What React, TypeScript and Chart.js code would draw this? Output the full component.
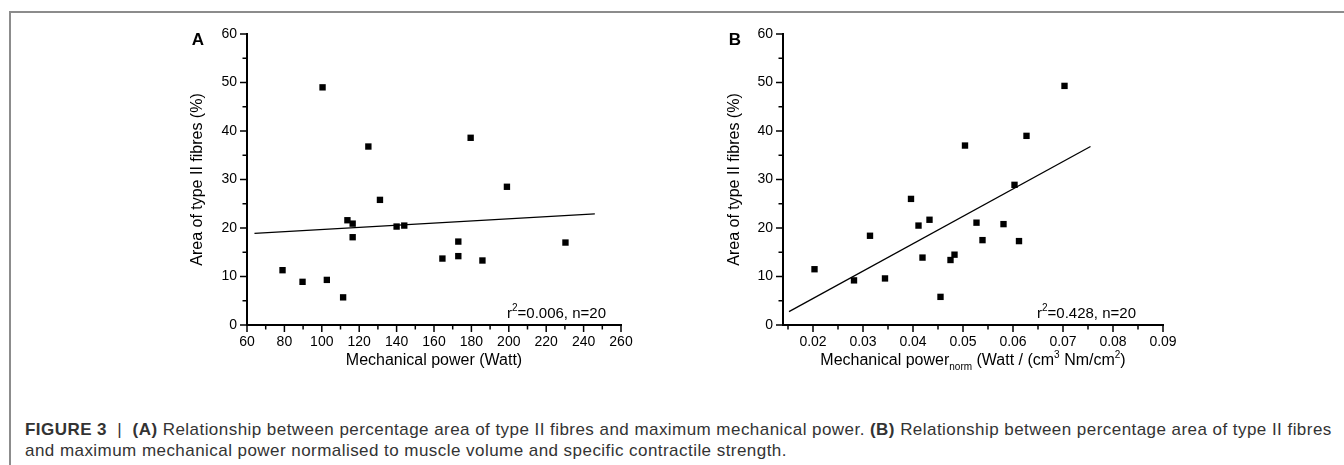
import React, { useEffect, useRef } from "react";
import { Chart, registerables } from "chart.js";

Chart.register(...registerables);

// ---------- Data ----------
const powerWatt = [79, 89.7, 100.4, 102.7, 111.4, 113.7, 116.5, 116.5, 124.9, 131.1, 140, 144.1, 164.5, 173, 173, 179.6, 185.9, 199, 230.3];
const fibreAreaA = [11.3, 8.9, 49.0, 9.3, 5.7, 21.6, 20.9, 18.1, 36.8, 25.8, 20.3, 20.5, 13.7, 17.2, 14.2, 38.6, 13.3, 28.5, 17.0];
const fitAx = [64, 246];
const fitAy = [18.9, 22.9];

const powerNorm = [0.0203, 0.0282, 0.0314, 0.0344, 0.0396, 0.0411, 0.0419, 0.0433, 0.0455, 0.0475, 0.0483, 0.0504, 0.0527, 0.0539, 0.0581, 0.0603, 0.0612, 0.0627, 0.0703];
const fibreAreaB = [11.5, 9.2, 18.4, 9.6, 26.0, 20.5, 13.9, 21.7, 5.8, 13.4, 14.5, 37.0, 21.1, 17.5, 20.8, 28.9, 17.3, 39.0, 49.3];
const fitBx = [0.0152, 0.0755];
const fitBy = [2.75, 36.8];

const yMajorTicks = [0, 10, 20, 30, 40, 50, 60];
const yMinorTicks = [5, 15, 25, 35, 45, 55];
const xMajorTicksA = [60, 80, 100, 120, 140, 160, 180, 200, 220, 240, 260];
const xMinorTicksA = [70, 90, 110, 130, 150, 170, 190, 210, 230, 250];
const xMajorTicksB = [0.02, 0.03, 0.04, 0.05, 0.06, 0.07, 0.08, 0.09];
const xMinorTicksB = [0.015, 0.025, 0.035, 0.045, 0.055, 0.065, 0.075, 0.085];
const xLabelsB = ["0.02", "0.03", "0.04", "0.05", "0.06", "0.07", "0.08", "0.09"];

const statsA = "0.006, n=20";
const statsB = "0.428, n=20";

const FONT = '"Liberation Sans", Arial, Helvetica, sans-serif';

type Run = { text: string; size: number; bold?: boolean; dy?: number };

function drawRuns(ctx: CanvasRenderingContext2D, runs: Run[], x: number, y: number, align: "left" | "center") {
  let total = 0;
  const widths = runs.map((r) => {
    ctx.font = `${r.bold ? "bold " : ""}${r.size}px ${FONT}`;
    const w = ctx.measureText(r.text).width;
    total += w;
    return w;
  });
  let cx = align === "center" ? x - total / 2 : x;
  ctx.textAlign = "left";
  ctx.textBaseline = "alphabetic";
  runs.forEach((r, i) => {
    ctx.font = `${r.bold ? "bold " : ""}${r.size}px ${FONT}`;
    ctx.fillText(r.text, cx, y + (r.dy || 0));
    cx += widths[i];
  });
}

const tickMarks = {
  id: "tickMarks",
  afterDraw(chart: any, _args: any, opts: any) {
    const ctx = chart.ctx as CanvasRenderingContext2D;
    const xs = chart.scales.x;
    const ys = chart.scales.y;
    const area = chart.chartArea;
    ctx.save();
    ctx.strokeStyle = "#000";
    ctx.lineWidth = 1.5;
    const major = 6;
    const minor = 3.5;
    const bottom = area.bottom + 1;
    const left = area.left - 1;
    const dx = (vals: number[], len: number) =>
      vals.forEach((v) => {
        const p = xs.getPixelForValue(v);
        ctx.beginPath();
        ctx.moveTo(p, bottom);
        ctx.lineTo(p, bottom + len);
        ctx.stroke();
      });
    const dy = (vals: number[], len: number) =>
      vals.forEach((v) => {
        const p = ys.getPixelForValue(v);
        ctx.beginPath();
        ctx.moveTo(left, p);
        ctx.lineTo(left - len, p);
        ctx.stroke();
      });
    dx(opts.xMajor, major);
    dx(opts.xMinor, minor);
    dy(yMajorTicks, major);
    dy(yMinorTicks, minor);
    ctx.restore();
  },
};

const panelText = {
  id: "panelText",
  afterDraw(chart: any, _args: any, opts: any) {
    const ctx = chart.ctx as CanvasRenderingContext2D;
    const area = chart.chartArea;
    ctx.save();
    ctx.fillStyle = "#000";
    // panel letter
    ctx.font = `bold 17px ${FONT}`;
    ctx.textAlign = "center";
    ctx.textBaseline = "middle";
    ctx.fillText(opts.letter, opts.titleX, 40);
    // y title
    ctx.save();
    ctx.translate(opts.titleX, (area.top + area.bottom) / 2);
    ctx.rotate(-Math.PI / 2);
    ctx.font = `16px ${FONT}`;
    ctx.textAlign = "center";
    ctx.textBaseline = "middle";
    ctx.fillText("Area of type II fibres (%)", 0, 0);
    ctx.restore();
    // x title
    drawRuns(ctx, opts.xTitle, (area.left + area.right) / 2, 365, "center");
    // stats
    drawRuns(
      ctx,
      [
        { text: "r", size: 15 },
        { text: "2", size: 10, dy: -7 },
        { text: "=" + opts.stats, size: 15 },
      ],
      opts.statsX,
      318,
      "left"
    );
    ctx.restore();
  },
};

function makeConfig(opts: {
  xs: number[];
  ys: number[];
  fx: number[];
  fy: number[];
  xMin: number;
  xMax: number;
  xMajor: number[];
  xMinor: number[];
  xLabel: (v: number) => string;
  padding: { left: number; right: number; top: number; bottom: number };
  letter: string;
  titleX: number;
  statsX: number;
  stats: string;
  xTitle: Run[];
}): any {
  return {
    type: "scatter",
    data: {
      datasets: [
        {
          type: "scatter",
          data: opts.xs.map((x, i) => ({ x, y: opts.ys[i] })),
          pointStyle: "rect",
          pointRadius: 4.5,
          backgroundColor: "#000",
          borderWidth: 0,
        },
        {
          type: "line",
          data: opts.fx.map((x, i) => ({ x, y: opts.fy[i] })),
          borderColor: "#000",
          borderWidth: 1.3,
          pointRadius: 0,
          fill: false,
          showLine: true,
        },
      ],
    },
    options: {
      animation: false,
      responsive: false,
      maintainAspectRatio: false,
      layout: { padding: opts.padding },
      plugins: {
        legend: { display: false },
        tooltip: { enabled: false },
        tickMarks: { xMajor: opts.xMajor, xMinor: opts.xMinor },
        panelText: { letter: opts.letter, titleX: opts.titleX, statsX: opts.statsX, stats: opts.stats, xTitle: opts.xTitle },
      },
      scales: {
        x: {
          type: "linear",
          min: opts.xMin,
          max: opts.xMax,
          afterBuildTicks: (s: any) => {
            s.ticks = opts.xMajor.map((v) => ({ value: v }));
          },
          afterFit: (s: any) => {
            s.height = 30;
          },
          grid: { display: false, drawTicks: false, tickLength: 0 },
          border: { display: true, color: "#000", width: 2 },
          ticks: {
            color: "#000",
            font: { family: FONT, size: 14 },
            padding: 9,
            maxRotation: 0,
            autoSkip: false,
            callback: (v: number) => opts.xLabel(v),
          },
        },
        y: {
          type: "linear",
          min: 0,
          max: 60,
          afterBuildTicks: (s: any) => {
            s.ticks = yMajorTicks.map((v) => ({ value: v }));
          },
          afterFit: (s: any) => {
            s.width = 40;
          },
          grid: { display: false, drawTicks: false, tickLength: 0 },
          border: { display: true, color: "#000", width: 2 },
          ticks: {
            color: "#000",
            font: { family: FONT, size: 14 },
            padding: 10,
            autoSkip: false,
            callback: (v: number) => String(v),
          },
        },
      },
    },
    plugins: [tickMarks, panelText],
  };
}

function Panel({ config, left }: { config: () => any; left: number }) {
  const ref = useRef<HTMLCanvasElement | null>(null);
  useEffect(() => {
    if (!ref.current) return;
    const chart = new Chart(ref.current, config());
    return () => chart.destroy();
  }, []);
  return (
    <canvas
      ref={ref}
      width={672}
      height={380}
      style={{ position: "absolute", left, top: 0, width: 672, height: 380 }}
    />
  );
}

export default function App() {
  const configA = () =>
    makeConfig({
      xs: powerWatt,
      ys: fibreAreaA,
      fx: fitAx,
      fy: fitAy,
      xMin: 60,
      xMax: 260,
      xMajor: xMajorTicksA,
      xMinor: xMinorTicksA,
      xLabel: (v) => String(v),
      padding: { left: 207, right: 51, top: 34, bottom: 25 },
      letter: "A",
      titleX: 198,
      statsX: 507,
      stats: statsA,
      xTitle: [{ text: "Mechanical power (Watt)", size: 16 }],
    });
  const configB = () =>
    makeConfig({
      xs: powerNorm,
      ys: fibreAreaB,
      fx: fitBx,
      fy: fitBy,
      xMin: 0.014,
      xMax: 0.09,
      xMajor: xMajorTicksB,
      xMinor: xMinorTicksB,
      xLabel: (v) => xLabelsB[xMajorTicksB.indexOf(v)] ?? v.toFixed(2),
      padding: { left: 71, right: 181, top: 34, bottom: 25 },
      letter: "B",
      titleX: 63,
      statsX: 365,
      stats: statsB,
      xTitle: [
        { text: "Mechanical power", size: 16 },
        { text: "norm", size: 10, dy: 5 },
        { text: " (Watt / (cm", size: 16 },
        { text: "3", size: 10, dy: -7 },
        { text: " Nm/cm", size: 16 },
        { text: "2", size: 10, dy: -7 },
        { text: ")", size: 16 },
      ],
    });

  return (
    <div
      style={{
        position: "fixed",
        left: 0,
        top: 0,
        width: 1344,
        height: 465,
        background: "#fff",
        overflow: "hidden",
      }}
    >
      <div
        style={{
          position: "absolute",
          left: 9,
          top: 11,
          width: 1340,
          height: 460,
          borderTop: "2px solid #8c8c8c",
          borderLeft: "2px solid #8c8c8c",
        }}
      />
      <Panel config={configA} left={0} />
      <Panel config={configB} left={672} />
      <div
        style={{
          position: "absolute",
          left: 25,
          top: 419,
          whiteSpace: "nowrap",
          fontFamily: FONT,
          fontSize: 17,
          letterSpacing: "0.45px",
          lineHeight: "21px",
          color: "#333",
        }}
      >
        <div>
          <b>FIGURE 3</b> &nbsp;|&nbsp; <b>(A)</b> Relationship between percentage area of type II fibres and maximum
          mechanical power. <b>(B)</b> Relationship between percentage area of type II fibres
        </div>
        <div>and maximum mechanical power normalised to muscle volume and specific contractile strength.</div>
      </div>
    </div>
  );
}
